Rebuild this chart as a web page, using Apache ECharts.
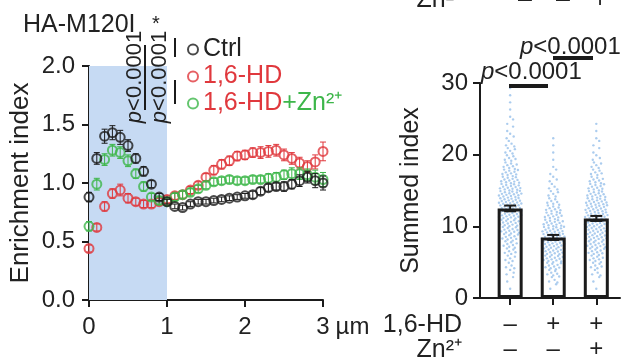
<!DOCTYPE html>
<html>
<head>
<meta charset="utf-8">
<script src="https://cdn.jsdelivr.net/npm/echarts@6/dist/echarts.min.js"></script>
<style>
  html, body { margin: 0; padding: 0; background: #fff; }
  #chart { width: 621px; height: 363px; }
</style>
</head>
<body>
<div id="chart"></div>
<script>
// 距离 (µm)
const distance = [0, 0.1, 0.2, 0.3, 0.4, 0.5, 0.6, 0.7, 0.8, 0.9, 1.0, 1.1, 1.2, 1.3, 1.4, 1.5,
                  1.6, 1.7, 1.8, 1.9, 2.0, 2.1, 2.2, 2.3, 2.4, 2.5, 2.6, 2.7, 2.8, 2.9, 3.0];

const ctrlVal = [0.88, 1.21, 1.40, 1.43, 1.39, 1.32, 1.21, 1.10, 0.99, 0.88, 0.84, 0.80, 0.79, 0.82, 0.84, 0.84,
                 0.85, 0.86, 0.87, 0.88, 0.89, 0.90, 0.93, 0.96, 0.97, 0.97, 0.99, 1.02, 1.05, 1.02, 1.00];
const ctrlErr = [0.04, 0.05, 0.06, 0.06, 0.06, 0.05, 0.04, 0.04, 0.03, 0.03, 0.02, 0.02, 0.02, 0.02, 0.02, 0.02,
                 0.02, 0.02, 0.02, 0.02, 0.02, 0.03, 0.03, 0.03, 0.03, 0.04, 0.04, 0.05, 0.05, 0.06, 0.06];

const hdVal = [0.44, 0.62, 0.80, 0.91, 0.94, 0.87, 0.84, 0.82, 0.82, 0.84, 0.86, 0.89, 0.90, 0.94, 0.98, 1.05,
               1.11, 1.16, 1.19, 1.23, 1.24, 1.26, 1.26, 1.27, 1.28, 1.24, 1.21, 1.17, 1.14, 1.18, 1.27];
const hdErr = [0.03, 0.03, 0.04, 0.04, 0.05, 0.04, 0.03, 0.03, 0.03, 0.03, 0.03, 0.03, 0.03, 0.03, 0.03, 0.03,
               0.04, 0.04, 0.04, 0.04, 0.04, 0.04, 0.05, 0.05, 0.05, 0.05, 0.05, 0.05, 0.05, 0.06, 0.08];

const znVal = [0.63, 0.99, 1.20, 1.28, 1.26, 1.19, 1.08, 0.97, 0.88, 0.85, 0.84, 0.88, 0.90, 0.92, 0.95, 0.98,
               1.01, 1.02, 1.03, 1.02, 1.02, 1.03, 1.03, 1.04, 1.05, 1.07, 1.08, 1.08, 1.07, 1.05, 1.03];
const znErr = [0.04, 0.05, 0.05, 0.05, 0.05, 0.05, 0.04, 0.04, 0.03, 0.03, 0.03, 0.03, 0.03, 0.03, 0.03, 0.03,
               0.03, 0.03, 0.03, 0.03, 0.03, 0.03, 0.03, 0.04, 0.04, 0.04, 0.05, 0.05, 0.05, 0.06, 0.06];

// 右图: 三组柱
const groups = [1, 2, 3];
const hdRow = ['–', '+', '+'];
const znRow = ['–', '–', '+'];
const barMean = [12.5, 8.45, 11.1];
const barErr = [0.4, 0.35, 0.35];
// 每组散点按 1 为宽度分箱的个数 (0-1, 1-2, ...)
const ctrlBins = [0, 1, 2, 3, 4, 5, 6, 8, 10, 12, 14, 16, 17, 17, 16, 14, 12, 10, 8, 6, 5, 4, 3, 2, 2, 1, 1, 1, 1, 1];
const hdBins   = [0, 2, 4, 7, 10, 13, 15, 16, 16, 15, 13, 11, 9, 7, 5, 4, 3, 2, 1, 1, 1, 1, 1];
const znBins   = [0, 1, 2, 4, 6, 8, 10, 12, 14, 15, 16, 16, 15, 14, 12, 10, 8, 6, 5, 3, 2, 2, 1, 1, 1];

const BLACK = '#1b1b1b', RED = '#e0383d', GREEN = '#3db64a';
const FONT = 'Liberation Sans, Arial, sans-serif';
const FS = 24;

function pairs(vals) { return distance.map((d, i) => [d, vals[i]]); }
function errPairs(vals, errs) { return distance.map((d, i) => [d, vals[i] - errs[i], vals[i] + errs[i]]); }

// 按分箱个数排成蜂群状
function swarm(center, bins) {
    let pts = [];
    bins.forEach((c, b) => {
        let half = Math.min(0.26, 0.04 + c * 0.014);
        for (let k = 0; k < c; k++) {
            let fx = c === 1 ? 0 : (k / (c - 1)) * 2 - 1;
            let fy = (k * 0.618 + 0.3) % 1;
            pts.push([center + fx * half, b + fy]);
        }
    });
    return pts;
}

function errRender(color, cap, lw) {
    return function (params, api) {
        let x = api.value(0);
        let lo = api.coord([x, api.value(1)]);
        let hi = api.coord([x, api.value(2)]);
        return {
            type: 'group',
            children: [
                {type: 'line', shape: {x1: lo[0], y1: lo[1], x2: hi[0], y2: hi[1]}, style: {stroke: color, lineWidth: lw}},
                {type: 'line', shape: {x1: hi[0] - cap, y1: hi[1], x2: hi[0] + cap, y2: hi[1]}, style: {stroke: color, lineWidth: lw}},
                {type: 'line', shape: {x1: lo[0] - cap, y1: lo[1], x2: lo[0] + cap, y2: lo[1]}, style: {stroke: color, lineWidth: lw}}
            ]
        };
    };
}

function pointSeries(name, vals, color, z) {
    return {
        name: name,
        type: 'scatter',
        xAxisIndex: 0, yAxisIndex: 0,
        symbol: 'circle',
        symbolSize: 9,
        z: z,
        itemStyle: {color: 'rgba(0,0,0,0)', borderColor: color, borderWidth: 2},
        data: pairs(vals)
    };
}

function errSeries(vals, errs, color, z) {
    return {
        type: 'custom',
        xAxisIndex: 0, yAxisIndex: 0,
        z: z,
        silent: true,
        renderItem: errRender(color, 3, 1),
        data: errPairs(vals, errs)
    };
}

function pText(x, y, size, rotated) {
    return {
        type: 'text', x: x, y: y, z: 100, rotation: rotated ? Math.PI / 2 : 0,
        style: {
            text: '{i|p}<0.0001', align: rotated ? 'center' : 'left', verticalAlign: 'middle',
            fontSize: size, fontFamily: FONT, fill: '#222',
            rich: {i: {fontStyle: 'italic', fontSize: size, fontFamily: FONT, fill: '#222'}}
        }
    };
}

function plainText(x, y, text, align, size) {
    return {type: 'text', x: x, y: y, z: 100,
            style: {text: text, align: align, verticalAlign: 'middle', fontSize: size, fontFamily: FONT, fill: '#222'}};
}

function vline(x, y1, y2) {
    return {type: 'line', z: 100, shape: {x1: x, y1: y1, x2: x, y2: y2}, style: {stroke: BLACK, lineWidth: 2}};
}

function hbar(x1, x2, y) {
    return {type: 'line', z: 100, shape: {x1: x1, y1: y, x2: x2, y2: y}, style: {stroke: BLACK, lineWidth: 4}};
}

const axisLine = {show: true, lineStyle: {color: BLACK, width: 2}};
const axisTick = {show: true, inside: false, length: 7, lineStyle: {color: BLACK, width: 2}};

const chart = echarts.init(document.getElementById('chart'));
const option = {
    animation: false,
    backgroundColor: '#fff',
    title: {
        text: 'HA-M120I', left: 18, top: 8,
        textStyle: {fontSize: 25, fontWeight: 'normal', color: '#222', fontFamily: FONT}
    },
    legend: {
        orient: 'vertical', left: 182, top: 32, itemGap: 2,
        itemWidth: 10, itemHeight: 10,
        data: ['Ctrl', '1,6-HD', '1,6-HD+Zn²⁺'],
        formatter: function (name) {
            if (name === 'Ctrl') return '{k|Ctrl}';
            if (name === '1,6-HD') return '{r|1,6-HD}';
            return '{r|1,6-HD}{g|+Zn²⁺}';
        },
        textStyle: {
            fontSize: 25, fontFamily: FONT,
            rich: {
                k: {color: '#222', fontSize: 25, fontFamily: FONT},
                r: {color: RED, fontSize: 25, fontFamily: FONT},
                g: {color: GREEN, fontSize: 25, fontFamily: FONT}
            }
        }
    },
    grid: [
        {left: 89, right: 298, top: 66, bottom: 63},
        {left: 480, right: 1, top: 83, bottom: 65}
    ],
    xAxis: [
        {
            type: 'value', gridIndex: 0, min: 0, max: 3, interval: 1,
            axisLine: axisLine, axisTick: axisTick, splitLine: {show: false},
            name: 'µm', nameLocation: 'end', nameGap: 12,
            nameTextStyle: {fontSize: FS, fontFamily: FONT, color: '#222', align: 'left', verticalAlign: 'top', padding: [15, 0, 0, 0]},
            axisLabel: {color: '#222', fontSize: FS, fontFamily: FONT, margin: 15}
        },
        {
            type: 'value', gridIndex: 1, min: 0.3, max: 3.55,
            axisLine: axisLine, splitLine: {show: false},
            axisTick: {show: true, inside: false, length: 7, lineStyle: {color: BLACK, width: 2}, customValues: groups},
            axisLabel: {
                color: '#222', fontSize: FS, fontFamily: FONT, margin: 14, lineHeight: 25,
                customValues: groups,
                formatter: function (v) {
                    let i = groups.indexOf(Math.round(v));
                    return hdRow[i] + '\n' + znRow[i];
                }
            }
        }
    ],
    yAxis: [
        {
            type: 'value', gridIndex: 0, min: 0, max: 2, interval: 0.5,
            axisLine: axisLine, axisTick: axisTick, splitLine: {show: false},
            name: 'Enrichment index', nameLocation: 'middle', nameGap: 55,
            nameTextStyle: {fontSize: 26, fontFamily: FONT, color: '#222'},
            axisLabel: {color: '#222', fontSize: FS, fontFamily: FONT, margin: 14, formatter: v => v.toFixed(1)}
        },
        {
            type: 'value', gridIndex: 1, min: 0, max: 30, interval: 10,
            axisLine: axisLine, axisTick: axisTick, splitLine: {show: false},
            name: 'Summed index', nameLocation: 'middle', nameGap: 56,
            nameTextStyle: {fontSize: 25, fontFamily: FONT, color: '#222'},
            axisLabel: {color: '#222', fontSize: FS, fontFamily: FONT, margin: 12}
        }
    ],
    series: [
        Object.assign(pointSeries('1,6-HD', hdVal, RED, 3), {
            markArea: {
                silent: true,
                itemStyle: {color: '#c6daf3'},
                data: [[{xAxis: 0, yAxis: 0}, {xAxis: 1, yAxis: 2}]]
            }
        }),
        errSeries(hdVal, hdErr, RED, 2),
        pointSeries('1,6-HD+Zn²⁺', znVal, GREEN, 5),
        errSeries(znVal, znErr, GREEN, 4),
        pointSeries('Ctrl', ctrlVal, BLACK, 7),
        errSeries(ctrlVal, ctrlErr, BLACK, 6),

        // 右图散点
        {
            type: 'scatter', xAxisIndex: 1, yAxisIndex: 1, z: 2, silent: true,
            symbolSize: 2.4,
            itemStyle: {color: '#a2c6ec', opacity: 0.9},
            data: swarm(1, ctrlBins).concat(swarm(2, hdBins), swarm(3, znBins))
        },
        {
            type: 'bar', xAxisIndex: 1, yAxisIndex: 1, z: 3, silent: true,
            barWidth: 25,
            itemStyle: {color: 'rgba(255,255,255,0)', borderColor: BLACK, borderWidth: 3},
            data: groups.map((g, i) => [g, barMean[i]])
        },
        {
            type: 'custom', xAxisIndex: 1, yAxisIndex: 1, z: 4, silent: true,
            renderItem: errRender(BLACK, 6, 2),
            data: groups.map((g, i) => [g, barMean[i] - barErr[i], barMean[i] + barErr[i]])
        }
    ],
    graphic: [
        // 左图显著性标注
        pText(135, 77, 22, true),
        pText(160, 77, 22, true),
        {type: 'text', x: 152, y: 14, z: 100, style: {text: '*', fontSize: 20, fontFamily: FONT, fill: '#222'}},
        vline(145, 45, 110),
        vline(175, 38, 57),
        vline(175, 80, 104),

        // 右图显著性标注
        pText(481, 72, 24, false),
        hbar(509, 548, 86),
        pText(520, 47, 24, false),
        hbar(553, 593, 58),

        // 右图行标题
        plainText(462, 325, '1,6-HD', 'right', 25),
        plainText(462, 350, 'Zn²⁺', 'right', 25),

        // 顶部被截断的上一面板文字
        plainText(462, 0, 'Zn²⁺', 'right', 25),
        plainText(525, 0, '–', 'center', 25),
        plainText(563, 0, '–', 'center', 25),
        plainText(600, 0, '+', 'center', 25)
    ]
};
chart.setOption(option);
</script>
</body>
</html>
